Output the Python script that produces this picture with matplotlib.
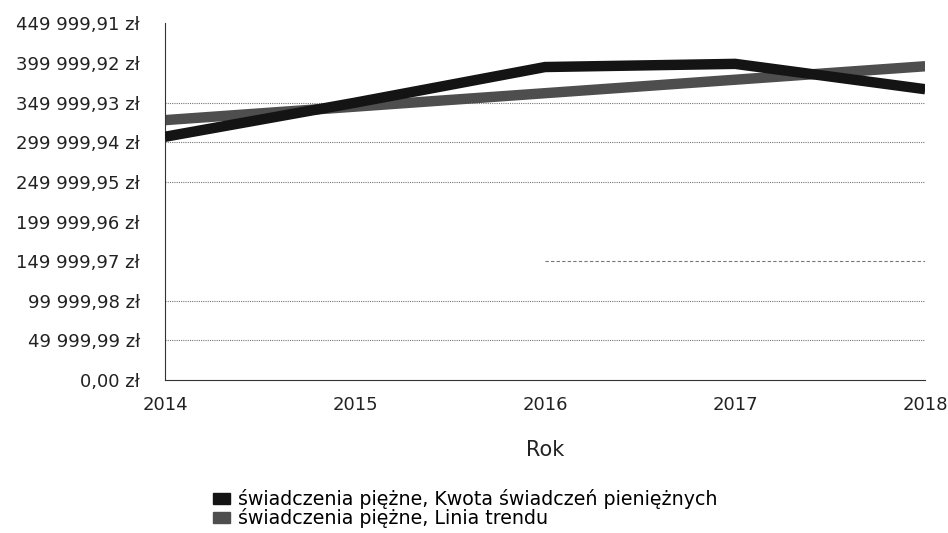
import matplotlib.pyplot as plt
from matplotlib.patches import Patch

# values
years = [2014, 2015, 2016, 2017, 2018]
kwota = [307000, 350000, 395000, 399000, 367000]
trend = [328000, 345000, 362000, 379000, 396000]

tick_values = [0.00, 49999.99, 99999.98, 149999.97, 199999.96,
               249999.95, 299999.94, 349999.93, 399999.92, 449999.91]
grid_values = [49999.99, 99999.98, 249999.95, 299999.94, 349999.93]

labels = ["świadczenia piężne, Kwota świadczeń pieniężnych",
          "świadczenia piężne, Linia trendu"]


def fmt_zl(v):
    s = f"{v:,.2f}".replace(",", " ").replace(".", ",")
    return f"{s} zł"


fig = plt.figure(figsize=(9.48, 5.33), dpi=100)
ax = fig.add_axes([0.174, 0.287, 0.802, 0.669])

for g in grid_values:
    ax.axhline(g, color="#777777", lw=0.8, ls=(0, (1, 1)), zorder=1)
ax.axhline(149999.97, xmin=0.5, color="#777777", lw=0.8, ls=(0, (3, 2)), zorder=1)

ax.plot(years, kwota, color="#141414", lw=7.5, solid_capstyle="butt",
        solid_joinstyle="miter", label=labels[0], zorder=3)
ax.plot(years, trend, color="#4e4e4e", lw=7.5, solid_capstyle="butt",
        label=labels[1], zorder=2)

ax.set_xlim(2014, 2018)
ax.set_ylim(0, 449999.91)
ax.set_xticks(years)
ax.set_xticklabels([str(y) for y in years], fontsize=13)
ax.set_yticks(tick_values)
ax.set_yticklabels([fmt_zl(v) for v in tick_values], fontsize=13)
ax.tick_params(axis="x", length=0, pad=11.5, colors="#222222")
ax.tick_params(axis="y", length=0, pad=18, colors="#222222")

for side in ["top", "right"]:
    ax.spines[side].set_visible(False)
ax.spines["left"].set_color("#333333")
ax.spines["bottom"].set_color("#333333")

ax.set_xlabel("Rok", fontsize=15, color="#222222", labelpad=19)

handles = [Patch(color="#141414"), Patch(color="#4e4e4e")]
fig.legend(handles, labels, loc="upper left", bbox_to_anchor=(0.215, 0.1),
           frameon=False, fontsize=13.7, handlelength=0.9, handleheight=0.5,
           handletextpad=0.4, labelspacing=-0.05, borderpad=0)

fig.savefig("out.png", dpi=100, facecolor="white")
